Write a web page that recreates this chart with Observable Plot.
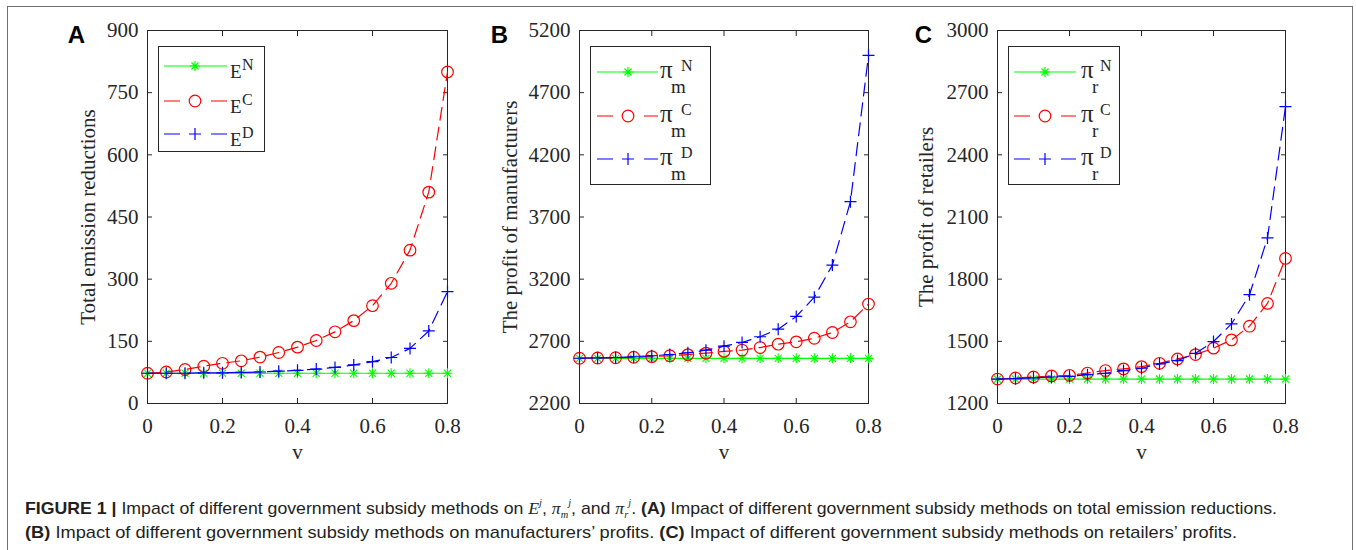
<!DOCTYPE html>
<html>
<head>
<meta charset="utf-8">
<script src="https://cdn.jsdelivr.net/npm/d3@7"></script>
<script src="https://cdn.jsdelivr.net/npm/@observablehq/plot@0.6"></script>
<style>
  html, body { margin: 0; padding: 0; background: #fff; }
  body { width: 1356px; height: 550px; overflow: hidden; position: relative; }
  #border { position: absolute; left: 7px; top: 6px; width: 1346px; height: 600px; border: 1px solid #707070; box-sizing: border-box; }
  .panel { position: absolute; top: 0; }
  .legend { position: absolute; }
  .capline { position: absolute; left: 25px; font-family: "Liberation Sans", Arial, sans-serif; font-size: 17px; line-height: 17px; height: 17px; color: #231f20; white-space: nowrap; transform-origin: 0 0; }
  .capline b { font-weight: bold; }
  .capline .m { font-style: italic; font-family: "Liberation Serif", serif; font-size: 17px; }
  .capline .sup, .capline .sub { position: relative; font-size: 10px; line-height: 0; }
  .capline .sup { top: -8px; }
  .capline .sub { top: 4px; }
</style>
</head>
<body>
<div id="border"></div>
<div id="charts"></div>
<div class="capline" id="cap1" style="top:500px"><b>FIGURE 1 |</b> Impact of different government subsidy methods on <span class="m">E<span class="sup">j</span></span>, <span class="m">π<span class="sub">m</span><span class="sup">j</span></span>, and <span class="m">π<span class="sub">r</span><span class="sup">j</span></span>. <b>(A)</b> Impact of different government subsidy methods on total emission reductions.</div>
<div class="capline" id="cap2" style="top:523.5px"><b>(B)</b> Impact of different government subsidy methods on manufacturers’ profits. <b>(C)</b> Impact of different government subsidy methods on retailers’ profits.</div>
<script>
// ---------- data ----------
const v = [0, 0.05, 0.1, 0.15, 0.2, 0.25, 0.3, 0.35, 0.4, 0.45, 0.5, 0.55, 0.6, 0.65, 0.7, 0.75, 0.8];

const EN = [73, 73, 73, 73, 73, 73, 73, 73, 73, 73, 73, 73, 73, 73, 73, 73, 73];
const EC = [73, 76, 82, 90, 97, 103, 112, 123, 136, 152, 173, 200, 236, 290, 370, 510, 800];
const ED = [73, 73, 73, 74, 74, 75, 76, 78, 80, 83, 87, 93, 101, 111, 133, 175, 270];

const PmN = [2563, 2563, 2563, 2563, 2563, 2563, 2563, 2563, 2563, 2563, 2563, 2563, 2563, 2563, 2563, 2563, 2563];
const PmC = [2564, 2566, 2568, 2572, 2577, 2584, 2593, 2605, 2619, 2630, 2650, 2677, 2696, 2725, 2771, 2857, 3000];
const PmD = [2564, 2567, 2570, 2576, 2584, 2594, 2608, 2629, 2661, 2691, 2737, 2798, 2900, 3055, 3313, 3823, 5000];

const PrN = [1318, 1318, 1318, 1318, 1318, 1318, 1318, 1318, 1318, 1318, 1318, 1318, 1318, 1318, 1318, 1318, 1318];
const PrC = [1318, 1323, 1328, 1333, 1336, 1347, 1359, 1367, 1378, 1394, 1415, 1436, 1467, 1507, 1573, 1683, 1900];
const PrD = [1318, 1320, 1324, 1328, 1331, 1339, 1346, 1359, 1370, 1391, 1407, 1442, 1499, 1584, 1725, 1999, 2633];

const xTicks = [0, 0.2, 0.4, 0.6, 0.8];
const yTicksA = [0, 150, 300, 450, 600, 750, 900];
const yTicksB = [2200, 2700, 3200, 3700, 4200, 4700, 5200];
const yTicksC = [1200, 1500, 1800, 2100, 2400, 2700, 3000];

const yLabels = ["Total emission reductions", "The profit of manufacturers", "The profit of retailers"];
const panelLetters = ["A", "B", "C"];
const xLabel = "v";
const legendSups = ["N", "C", "D"];

// ---------- styles ----------
const GREEN = "#00ff00", RED = "#ff0000", BLUE = "#0000ff", AX = "#262626";
const DASH = "13,7";
const SERIF = "'Liberation Serif', 'Times New Roman', serif";
const SANS = "'Liberation Sans', Arial, sans-serif";

const asterisk = {
  draw(ctx, size) {
    const r = Math.sqrt(size / Math.PI), d = r * 0.7071;
    ctx.moveTo(-r, 0); ctx.lineTo(r, 0);
    ctx.moveTo(0, -r); ctx.lineTo(0, r);
    ctx.moveTo(-d, -d); ctx.lineTo(d, d);
    ctx.moveTo(-d, d); ctx.lineTo(d, -d);
  }
};
const plusSym = {
  draw(ctx, size) {
    const r = Math.sqrt(size / Math.PI);
    ctx.moveTo(-r, 0); ctx.lineTo(r, 0);
    ctx.moveTo(0, -r); ctx.lineTo(0, r);
  }
};

function rows(ys) { return v.map((x, i) => ({ v: x, y: ys[i] })); }

const panels = [
  { frameLeft: 147, frameW: 300, yDomain: [0, 900], yTicks: yTicksA, series: [EN, EC, ED], labelDx: -59, letterDx: -71 },
  { frameLeft: 579, frameW: 289, yDomain: [2200, 5200], yTicks: yTicksB, series: [PmN, PmC, PmD], labelDx: -69, letterDx: -80 },
  { frameLeft: 997, frameW: 288, yDomain: [1200, 3000], yTicks: yTicksC, series: [PrN, PrC, PrD], labelDx: -71, letterDx: -74 }
];

const mL = 110, mR = 10, mT = 30, mB = 70, H = 473;
const charts = document.getElementById("charts");
const txt = { fontFamily: SERIF, fontSize: 21, fill: AX };

panels.forEach((p, k) => {
  const [sN, sC, sD] = p.series.map(rows);
  const chart = Plot.plot({
    width: mL + p.frameW + mR,
    height: H,
    marginLeft: mL, marginRight: mR, marginTop: mT, marginBottom: mB,
    style: { fontFamily: SERIF, fontSize: "21px", color: AX, background: "transparent", overflow: "visible" },
    x: { domain: [0, 0.8] },
    y: { domain: p.yDomain },
    marks: [
      // inward tick marks on all four sides
      Plot.axisY(p.yTicks, { anchor: "left", tickSize: 5, dx: 5, tickFormat: () => "", fill: "none", label: null, stroke: AX }),
      Plot.axisY(p.yTicks, { anchor: "right", tickSize: 5, dx: -5, tickFormat: () => "", fill: "none", label: null, stroke: AX }),
      Plot.axisX(xTicks, { anchor: "bottom", tickSize: 5, dy: -5, tickFormat: () => "", fill: "none", label: null, stroke: AX }),
      Plot.axisX(xTicks, { anchor: "top", tickSize: 5, dy: 5, tickFormat: () => "", fill: "none", label: null, stroke: AX }),
      // tick labels
      Plot.axisY(p.yTicks, { anchor: "left", tickSize: 0, tickPadding: 9, label: null, ...txt, fontVariant: "normal", tickFormat: d => String(d) }),
      Plot.axisX(xTicks, { anchor: "bottom", tickSize: 0, tickPadding: 15, label: null, ...txt, fontVariant: "normal", tickFormat: d => String(d) }),
      Plot.frame({ stroke: AX, strokeWidth: 1 }),
      // series N
      Plot.line(sN, { x: "v", y: "y", stroke: GREEN, strokeWidth: 1.2 }),
      Plot.dot(sN, { x: "v", y: "y", symbol: asterisk, r: 5, stroke: GREEN, fill: "none", strokeWidth: 1.1 }),
      // series C
      Plot.line(sC, { x: "v", y: "y", stroke: RED, strokeWidth: 1.2, strokeDasharray: DASH }),
      Plot.dot(sC, { x: "v", y: "y", symbol: "circle", r: 5.8, stroke: RED, fill: "none", strokeWidth: 1.2 }),
      // series D
      Plot.line(sD, { x: "v", y: "y", stroke: BLUE, strokeWidth: 1.2, strokeDasharray: DASH }),
      Plot.dot(sD, { x: "v", y: "y", symbol: plusSym, r: 6, stroke: BLUE, fill: "none", strokeWidth: 1.2 }),
      // axis titles
      Plot.text([yLabels[k]], { text: d => d, frameAnchor: "left", dx: p.labelDx, rotate: -90, lineAnchor: "middle", textAnchor: "middle", ...txt }),
      Plot.text([xLabel], { text: d => d, frameAnchor: "bottom", dy: 55, lineAnchor: "bottom", textAnchor: "middle", ...txt }),
      // panel letter
      Plot.text([panelLetters[k]], { text: d => d, frameAnchor: "top-left", dx: p.letterDx, dy: 4.5, lineAnchor: "middle", textAnchor: "middle", fill: "#000", fontSize: 24, fontWeight: "bold", fontFamily: SANS })
    ]
  });
  chart.classList.add("panel");
  chart.style.left = (p.frameLeft - mL) + "px";
  charts.appendChild(chart);
});

// ---------- legends ----------
const legendSpecs = [
  { left: 158, top: 46, w: 107, h: 106, rowsY: [20, 55, 88], lineX: [6, 69], markX: 37, textX: 72, base: "E", sub: null, subDx: 0, supDx: 12 },
  { left: 590, top: 46, w: 121, h: 139, rowsY: [26, 70, 113], lineX: [7, 68], markX: 38, textX: 70, base: "π", sub: "m", subDx: 11, supDx: 21 },
  { left: 1008, top: 46, w: 112, h: 139, rowsY: [26, 70, 113], lineX: [6, 68], markX: 37, textX: 73, base: "π", sub: "r", subDx: 11, supDx: 19 }
];
const legendStyles = [
  { stroke: GREEN, dash: null, sym: asterisk, r: 5 },
  { stroke: RED, dash: "16,15,0,16,16", sym: d3.symbolCircle, r: 5.8 },
  { stroke: BLUE, dash: "16,15,0,16,16", sym: plusSym, r: 6 }
];
legendSpecs.forEach(L => {
  const svg = d3.select("body").append("svg").attr("class", "legend")
    .style("left", L.left + "px").style("top", L.top + "px")
    .attr("width", L.w).attr("height", L.h);
  svg.append("rect").attr("x", 0.5).attr("y", 0.5).attr("width", L.w - 1).attr("height", L.h - 1)
    .attr("fill", "#fff").attr("stroke", AX).attr("stroke-width", 1);
  L.rowsY.forEach((ry, i) => {
    const st = legendStyles[i];
    const g = svg.append("g");
    g.append("line").attr("x1", L.lineX[0]).attr("x2", L.lineX[1]).attr("y1", ry).attr("y2", ry)
      .attr("stroke", st.stroke).attr("stroke-width", 1.2)
      .attr("stroke-dasharray", st.dash);
    g.append("path").attr("transform", `translate(${L.markX},${ry})`)
      .attr("d", d3.symbol().type(st.sym).size(st.r * st.r * Math.PI)())
      .attr("fill", "none").attr("stroke", st.stroke).attr("stroke-width", 1.2);
    const t = g.append("text").attr("fill", AX).style("font-family", SERIF);
    if (L.sub) {
      t.append("tspan").attr("x", L.textX).attr("y", ry + 6).style("font-size", "25px").text(L.base);
      t.append("tspan").attr("x", L.textX + L.subDx).attr("y", ry + 21).style("font-size", "19px").text(L.sub);
      t.append("tspan").attr("x", L.textX + L.supDx).attr("y", ry - 1).style("font-size", "16px").text(legendSups[i]);
    } else {
      t.append("tspan").attr("x", L.textX).attr("y", ry + 12).style("font-size", "19px").text(L.base);
      t.append("tspan").attr("x", L.textX + L.supDx).attr("y", ry + 4).style("font-size", "16px").text(legendSups[i]);
    }
  });
});

// fit caption line widths to reference
const c1 = document.getElementById("cap1"), c2 = document.getElementById("cap2");
c1.style.transform = `scaleX(${1252 / c1.getBoundingClientRect().width})`;
c2.style.transform = `scaleX(${1212 / c2.getBoundingClientRect().width})`;
</script>
</body>
</html>
